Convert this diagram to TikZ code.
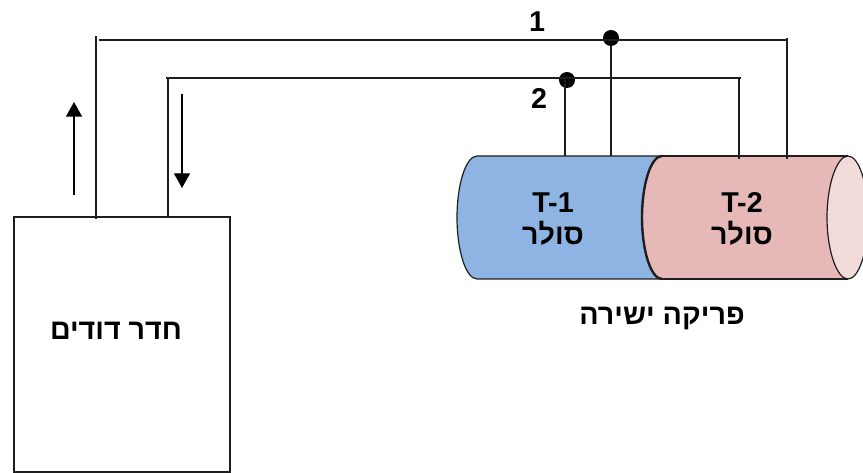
\documentclass[tikz,border=0pt]{standalone}
\usepackage{fontspec}
\usepackage{tikz}
\usetikzlibrary{arrows.meta}
\setmainfont{Liberation Sans}
\newfontfamily\hebfont[Script=Hebrew]{Liberation Sans}
\TeXXeTstate=1
\newcommand{\heb}[1]{{\hebfont\beginR #1\endR}}
\definecolor{tankblue}{RGB}{142,180,227}
\definecolor{tankpink}{RGB}{230,185,184}
\definecolor{tankend}{RGB}{242,220,219}
\definecolor{pipeline}{RGB}{30,30,30}
\tikzset{
	pipe/.style={draw=pipeline,line width=1.2pt},
	flow/.style={draw=black,line width=1pt,-{Triangle[width=12pt,length=11pt]}},
	joint/.style={circle,fill=black,inner sep=0pt,minimum size=12pt},
	label/.style={font=\fontsize{21.5}{24}\selectfont\bfseries,inner sep=0.75pt,align=center},
}
\begin{document}
\begin{tikzpicture}[x=0.75pt,y=0.75pt,yscale=-1,xscale=1]
	\useasboundingbox (0,0) rectangle (863,473);
	
	%Tanks
	\fill [tankblue] (660,156) -- (477,156) .. controls (466,156) and (457,184) .. (457,217.5) .. controls (457,251) and (466,279) .. (477,279) -- (660,279) -- cycle;
	\fill [tankpink] (660,156) .. controls (650,156) and (642,184) .. (642,217.5) .. controls (642,251) and (650,279) .. (660,279) -- (848,279) -- (848,156) -- cycle;
	\draw [pipeline,line width=0.9pt] (660,156) -- (477,156) .. controls (466,156) and (457,184) .. (457,217.5) .. controls (457,251) and (466,279) .. (477,279) -- (660,279);
	\draw [pipeline,line width=0.9pt] (660,156) -- (848,156);
	\draw [pipeline,line width=0.9pt] (660,279) -- (848,279);
	\draw [pipeline,line width=1.8pt] (662,156) .. controls (651,156) and (642,184) .. (642,217.5) .. controls (642,251) and (651,279) .. (662,279);
	\draw [pipeline,fill=tankend,line width=0.9pt] (848,156) .. controls (837,156) and (827,184) .. (827,217.5) .. controls (827,251) and (837,279) .. (848,279) .. controls (859,279) and (868,251) .. (868,217.5) .. controls (868,184) and (859,156) .. (848,156) -- cycle;
	
	%Boiler room
	\node (boiler) [draw=pipeline,line width=1.2pt,anchor=north west,minimum width=162pt,minimum height=191.5pt,inner sep=0pt] at (13,216) {};
	
	%Joints
	\node (joint1) [joint] at (611,38) {};
	\node (joint2) [joint] at (567,80) {};
	
	%Pipe ends
	\coordinate (up1) at (96,36);
	\coordinate (up2) at (96,219);
	\coordinate (back1) at (99,40);
	\coordinate (back2) at (787,40);
	\coordinate (corner1) at (787,38);
	\coordinate (tank1b) at (787,159);
	\coordinate (tank1a) at (611,156);
	\coordinate (ret1) at (166,78);
	\coordinate (ret2) at (168,78);
	\coordinate (ret3) at (168,217);
	\coordinate (corner2) at (741,78);
	\coordinate (corner2b) at (739,78);
	\coordinate (tank2b) at (739,159);
	\coordinate (tank2a) at (565,156);
	
	%Pipes
	\draw [pipe] (up1) -- (up2);
	\draw [pipe] (back1) -- (back2);
	\draw [pipe] (corner1) -- (tank1b);
	\draw [pipe] (joint1) -- (tank1a);
	\draw [pipe] (ret1) -- (corner2);
	\draw [pipe] (ret2) -- (ret3);
	\draw [pipe] (corner2b) -- (tank2b);
	\draw [pipe] (tank2a |- joint2) -- (tank2a);
	
	%Flow arrows
	\coordinate (flowup1) at (74,195);
	\coordinate (flowup2) at (74,102);
	\coordinate (flowdown1) at (182,94);
	\coordinate (flowdown2) at (182,188);
	\draw [flow] (flowup1) -- (flowup2);
	\draw [flow] (flowdown1) -- (flowdown2);
	
	% Text Node
	\node (num1) [label] at (537,22) {1};
	\node (num2) [label] at (539,98) {2};
	\node (tankT1) [label] at (553,219) {T-1\\\heb{סולר}};
	\node (tankT2) [label] at (742,219) {T-2\\\heb{סולר}};
	\node (direct) [label] at (662,319) {\heb{פריקה ישירה}};
	\node (room) [label] at (116,331) {\heb{חדר דודים}};
\end{tikzpicture}
\end{document}
